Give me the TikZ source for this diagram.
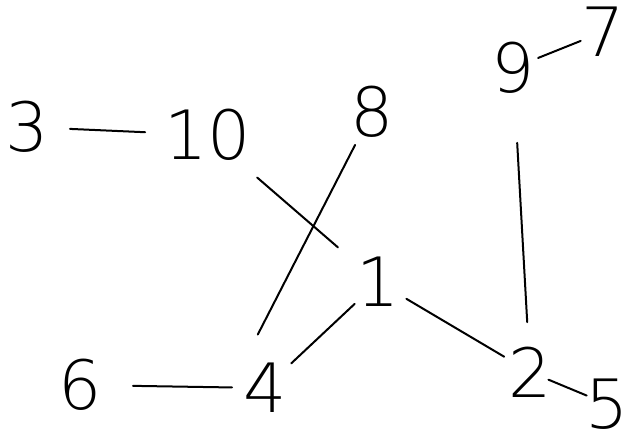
\documentclass[tikz,border=0pt]{standalone}
\usepackage{fontspec}
\newfontfamily\handfont{DejaVu Sans ExtraLight}
\begin{document}
\begin{tikzpicture}[x=1pt,y=-1pt,
  num/.style={inner sep=0pt,font=\handfont\fontsize{68}{68}\selectfont},
  edge/.style={line width=2pt,line cap=round}]
\useasboundingbox (0,0) rectangle (641,447);
\node[num] (n3) at (27,127) {3};
\node[num] (n10) at (208,135) {10};
\node[num] (n8) at (372,112) {8};
\node[num] (n9) at (513,68) {9};
\node[num] (n7) at (603,32) {7};
\node[num] (n1) at (378,282) {1};
\node[num] (n2) at (530,372) {2};
\node[num] (n5) at (607,404) {5};
\node[num] (n6) at (80,385) {6};
\node[num] (n4) at (265,388) {4};
\draw[edge,shorten <=43pt,shorten >=63pt] (n3.center) -- (n10.center);
\draw[edge,shorten <=65pt,shorten >=53pt] (n10.center) -- (n1.center);
\draw[edge,shorten <=37pt,shorten >=32pt] (n8.center) -- (n4.north west);
\draw[edge,shorten <=27pt,shorten >=24pt] (n9.center) -- (n7.center);
\draw[edge,shorten <=75pt,shorten >=50pt] (n9.center) -- (n2.center);
\draw[edge,shorten <=32pt,shorten >=36pt] (n1.center) -- (n4.center);
\draw[edge,shorten <=33pt,shorten >=30pt] (n1.center) -- (n2.center);
\draw[edge,shorten <=20pt,shorten >=22pt] (n2.center) -- (n5.center);
\draw[edge,shorten <=53pt,shorten >=33pt] (n6.center) -- (n4.center);
\end{tikzpicture}
\end{document}
